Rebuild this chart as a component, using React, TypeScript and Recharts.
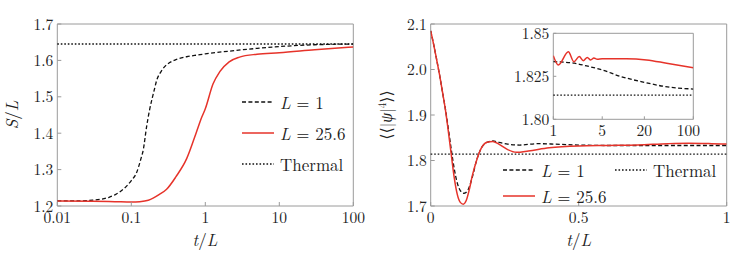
import React from "react";
import { LineChart, Line, XAxis, YAxis, ReferenceLine, ReferenceArea, Legend } from "recharts";

// Left panel: S/L against t/L (log axis)
const leftXTicks = [0.01, 0.1, 1, 10, 100];
const leftYTicks = [1.2, 1.3, 1.4, 1.5, 1.6, 1.7];
const leftThermal = 1.645;
const leftL1: [number, number][] = [
  [0.01, 1.214], [0.02, 1.214], [0.03, 1.216], [0.04, 1.219], [0.05, 1.224],
  [0.063, 1.233], [0.08, 1.248], [0.1, 1.27], [0.118, 1.292], [0.135, 1.33],
  [0.145, 1.354], [0.161, 1.418], [0.175, 1.46], [0.189, 1.491], [0.205, 1.52],
  [0.22, 1.545], [0.25, 1.568], [0.27, 1.578], [0.33, 1.594], [0.4, 1.602],
  [0.56, 1.61], [0.8, 1.615], [1, 1.618], [2, 1.625], [5, 1.633], [10, 1.638],
  [30, 1.643], [100, 1.645],
];
const leftL256: [number, number][] = [
  [0.01, 1.214], [0.03, 1.213], [0.06, 1.212], [0.1, 1.211], [0.13, 1.212],
  [0.17, 1.216], [0.24, 1.232], [0.3, 1.246], [0.4, 1.28], [0.56, 1.33],
  [0.75, 1.4], [0.9, 1.445], [1, 1.467], [1.27, 1.535], [1.57, 1.569],
  [2.1, 1.596], [2.9, 1.609], [5, 1.617], [10, 1.621], [30, 1.629], [100, 1.637],
];

// Right panel: <<|psi|^4>> against t/L (linear)
const rightXTicks = [0, 0.5, 1];
const rightYTicks = [1.7, 1.8, 1.9, 2.0, 2.1];
const rightThermal = 1.814;
const rightL1: [number, number][] = [
  [0, 2.085], [0.01, 2.055], [0.02, 2.022], [0.03, 1.988], [0.04, 1.95],
  [0.05, 1.912], [0.06, 1.868], [0.07, 1.822], [0.08, 1.78], [0.09, 1.75],
  [0.1, 1.734], [0.113, 1.728], [0.125, 1.734], [0.14, 1.762], [0.155, 1.8],
  [0.17, 1.826], [0.19, 1.84], [0.21, 1.843], [0.23, 1.84], [0.26, 1.836],
  [0.3, 1.834], [0.36, 1.837], [0.42, 1.836], [0.5, 1.834], [0.6, 1.833],
  [0.7, 1.833], [0.8, 1.833], [0.9, 1.833], [1, 1.833],
];
const rightL256: [number, number][] = [
  [0, 2.085], [0.01, 2.055], [0.02, 2.022], [0.03, 1.988], [0.04, 1.95],
  [0.05, 1.91], [0.06, 1.862], [0.07, 1.81], [0.08, 1.76], [0.09, 1.725],
  [0.1, 1.708], [0.11, 1.704], [0.12, 1.712], [0.13, 1.735], [0.14, 1.765],
  [0.155, 1.8], [0.17, 1.826], [0.19, 1.84], [0.21, 1.842], [0.23, 1.836],
  [0.26, 1.824], [0.29, 1.818], [0.33, 1.821], [0.4, 1.828], [0.5, 1.832],
  [0.6, 1.833], [0.7, 1.834], [0.8, 1.837], [0.87, 1.838], [0.95, 1.837], [1, 1.836],
];

// Inset: long times, log axis
const insetXTicks = [1, 5, 20, 100];
const insetYTicks = [1.8, 1.825, 1.85];
const insetYLabels = ["1.80", "1.825", "1.85"];
const insetL1: [number, number][] = [
  [1, 1.8335], [2, 1.8326], [3, 1.831], [5, 1.8287], [9, 1.825],
  [20, 1.8215], [40, 1.819], [100, 1.8176],
];
const insetL256: [number, number][] = [
  [1, 1.837], [1.18, 1.8316], [1.64, 1.8393], [1.97, 1.8335], [2.35, 1.8365],
  [2.68, 1.8341], [3.06, 1.836], [3.42, 1.8345], [3.8, 1.8356], [4.25, 1.8349],
  [5, 1.8352], [11, 1.8352], [21.5, 1.8345], [41.6, 1.8326], [100, 1.83],
];

const FONT = '"Latin Modern Roman","CMU Serif","Liberation Serif","DejaVu Serif",serif';
const RED = "#e6332a";
const FRAME = "#9a9a9a";
const INK = "#222";
const tickStyle = { fill: INK, fontSize: 15.5, fontFamily: FONT };

const pts = (a: [number, number][]) => a.map(([t, v]) => ({ t, v }));

function XTitle({ px, py }: { px: number; py: number }) {
  return (
    <text x={px} y={py} textAnchor="middle" fill={INK} fontSize={17} fontFamily={FONT}>
      <tspan fontStyle="italic">t</tspan>/<tspan fontStyle="italic">L</tspan>
    </text>
  );
}

function LeftYTitle() {
  return (
    <text x={0} y={0} transform="translate(18 115) rotate(-90)" textAnchor="middle" fill={INK} fontSize={17} fontFamily={FONT}>
      <tspan fontStyle="italic">S</tspan>/<tspan fontStyle="italic">L</tspan>
    </text>
  );
}

function RightYTitle() {
  return (
    <text x={0} y={0} transform="translate(22 115) rotate(-90)" textAnchor="middle" fill={INK} fontSize={16} fontFamily={FONT}>
      ⟨⟨|<tspan fontStyle="italic">ψ</tspan>|<tspan fontSize={11} dy={-6}>4</tspan><tspan dy={6}>⟩⟩</tspan>
    </text>
  );
}

function Item({ x, y, dash, color, w, label }: { x: number; y: number; dash?: string; color: string; w: number; label: React.ReactNode }) {
  return (
    <g>
      <line x1={x} x2={x + 32} y1={y} y2={y} stroke={color} strokeWidth={w} strokeDasharray={dash} />
      <text x={x + 38} y={y} dominantBaseline="central" fill={INK} fontSize={17} fontFamily={FONT}>
        {label}
      </text>
    </g>
  );
}

const eqL = (n: string) => (
  <>
    <tspan fontStyle="italic">L</tspan> = {n}
  </>
);

function LeftLegend() {
  return (
    <svg width={130} height={95} style={{ display: "block", overflow: "visible" }}>
      <Item x={2} y={16} dash="4 2.4" color="#111" w={1.3} label={eqL("1")} />
      <Item x={2} y={47} color={RED} w={1.5} label={eqL("25.6")} />
      <Item x={2} y={78} dash="1.6 1.9" color="#111" w={1.3} label="Thermal" />
    </svg>
  );
}

function RightLegend() {
  return (
    <svg width={230} height={50} style={{ display: "block", overflow: "visible" }}>
      <Item x={0} y={10} dash="4 2.4" color="#111" w={1.3} label={eqL("1")} />
      <Item x={112} y={10} dash="1.6 1.9" color="#111" w={1.3} label="Thermal" />
      <Item x={0} y={36} color={RED} w={1.5} label={eqL("25.6")} />
    </svg>
  );
}

export default function App() {
  return (
    <div style={{ position: "absolute", left: 0, top: 0, width: 747, height: 256, background: "#fff" }}>
      <div style={{ position: "absolute", left: 0, top: 0 }}>
        <LineChart width={370} height={256} margin={{ top: 24, right: 16.7, bottom: 0, left: 0 }}>
          <XAxis
            dataKey="t"
            type="number"
            scale="log"
            domain={[0.01, 100]}
            ticks={leftXTicks}
            allowDataOverflow
            height={50}
            axisLine={false}
            tickSize={-4}
            tickMargin={10}
            tickLine={{ stroke: FRAME }}
            tick={tickStyle}
            tickFormatter={(v) => String(v)}
            label={<XTitle px={205} py={246} />}
          />
          <YAxis
            type="number"
            domain={[1.2, 1.7]}
            ticks={leftYTicks}
            allowDataOverflow
            width={57.3}
            axisLine={false}
            tickSize={-4}
            tickMargin={8}
            tickLine={{ stroke: FRAME }}
            tick={tickStyle}
            tickFormatter={(v) => Number(v).toFixed(1)}
            label={<LeftYTitle />}
          />
          <ReferenceLine y={leftThermal} stroke="#111" strokeWidth={1.3} strokeDasharray="1.6 1.9" />
          <Line data={pts(leftL1)} dataKey="v" type="monotone" stroke="#111" strokeWidth={1.3} strokeDasharray="4 2.4" dot={false} isAnimationActive={false} />
          <Line data={pts(leftL256)} dataKey="v" type="monotone" stroke={RED} strokeWidth={1.5} dot={false} isAnimationActive={false} />
          <ReferenceArea x1={0.01} x2={100} y1={1.2} y2={1.7} fill="none" stroke={FRAME} strokeWidth={1} ifOverflow="visible" />
          <Legend
            layout="horizontal"
            verticalAlign="middle"
            align="center"
            wrapperStyle={{ left: 240, top: 86, width: 130, height: 95 }}
            content={() => <LeftLegend />}
          />
        </LineChart>
      </div>

      <div style={{ position: "absolute", left: 370, top: 0 }}>
        <LineChart width={377} height={256} margin={{ top: 24, right: 20.3, bottom: 0, left: 0 }}>
          <XAxis
            dataKey="t"
            type="number"
            domain={[0, 1]}
            ticks={rightXTicks}
            allowDataOverflow
            height={50}
            axisLine={false}
            tickSize={-4}
            tickMargin={10}
            tickLine={{ stroke: FRAME }}
            tick={tickStyle}
            tickFormatter={(v) => String(v)}
            label={<XTitle px={208.7} py={246} />}
          />
          <YAxis
            type="number"
            domain={[1.7, 2.1]}
            ticks={rightYTicks}
            allowDataOverflow
            width={60.7}
            axisLine={false}
            tickSize={-4}
            tickMargin={8}
            tickLine={{ stroke: FRAME }}
            tick={tickStyle}
            tickFormatter={(v) => Number(v).toFixed(1)}
            label={<RightYTitle />}
          />
          <ReferenceLine y={rightThermal} stroke="#111" strokeWidth={1.3} strokeDasharray="1.6 1.9" />
          <Line data={pts(rightL1)} dataKey="v" type="monotone" stroke="#111" strokeWidth={1.3} strokeDasharray="4 2.4" dot={false} isAnimationActive={false} />
          <Line data={pts(rightL256)} dataKey="v" type="monotone" stroke={RED} strokeWidth={1.5} dot={false} isAnimationActive={false} />
          <ReferenceArea x1={0} x2={1} y1={1.7} y2={2.1} fill="none" stroke={FRAME} strokeWidth={1} ifOverflow="visible" />
          <Legend
            layout="horizontal"
            verticalAlign="middle"
            align="center"
            wrapperStyle={{ left: 133, top: 160, width: 230, height: 50 }}
            content={() => <RightLegend />}
          />
        </LineChart>
      </div>

      <div style={{ position: "absolute", left: 500, top: 10 }}>
        <LineChart width={200} height={142} margin={{ top: 23.3, right: 6.7, bottom: 12, left: 0 }}>
          <XAxis
            dataKey="t"
            type="number"
            scale="log"
            domain={[1, 100]}
            ticks={insetXTicks}
            allowDataOverflow
            height={20.7}
            axisLine={false}
            tickSize={-3}
            tickMargin={9}
            tickLine={{ stroke: FRAME }}
            tick={tickStyle}
            tickFormatter={(v) => String(v)}
          />
          <YAxis
            type="number"
            domain={[1.8, 1.85]}
            ticks={insetYTicks}
            allowDataOverflow
            width={53.3}
            axisLine={false}
            tickSize={-3}
            tickMargin={7}
            tickLine={{ stroke: FRAME }}
            tick={tickStyle}
            tickFormatter={(v, i) => insetYLabels[i] ?? String(v)}
          />
          <ReferenceLine y={rightThermal} stroke="#111" strokeWidth={1.3} strokeDasharray="1.6 1.9" />
          <Line data={pts(insetL1)} dataKey="v" type="monotone" stroke="#111" strokeWidth={1.3} strokeDasharray="4 2.4" dot={false} isAnimationActive={false} />
          <Line data={pts(insetL256)} dataKey="v" type="monotone" stroke={RED} strokeWidth={1.5} dot={false} isAnimationActive={false} />
          <ReferenceArea x1={1} x2={100} y1={1.8} y2={1.85} fill="none" stroke={FRAME} strokeWidth={1} ifOverflow="visible" />
        </LineChart>
      </div>
    </div>
  );
}
